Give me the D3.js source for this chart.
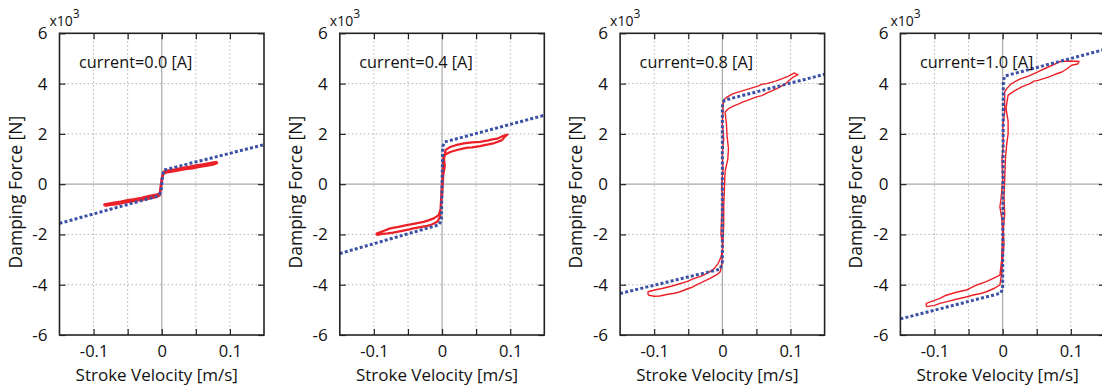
<!DOCTYPE html>
<html>
<head>
<meta charset="utf-8">
<script src="https://cdn.jsdelivr.net/npm/d3@7"></script>
<style>
  body { margin: 0; background: #fff; }
  svg { display: block; font-family: "Open Sans", sans-serif; }
</style>
</head>
<body>
<svg id="chart" width="1102" height="387"></svg>
<script>
// data (force in kN, velocity in m/s)
const currents = ["0.0", "0.4", "0.8", "1.0"];
const yTicks = [-6, -4, -2, 0, 2, 4, 6];
const xTicks = [-0.1, -0.05, 0, 0.05, 0.1];
const xLabels = [-0.1, 0, 0.1];

// blue dotted model lines
const model00 = [[-0.15,-1.56],[-0.005,-0.47],[-0.001,-0.3],[0.001,0.3],[0.003,0.56],[0.15,1.57]];
const model04 = [[-0.15,-2.76],[-0.005,-1.62],[-0.001,-1.45],[0,0],[0.001,1.5],[0.004,1.68],[0.15,2.74]];
const model08 = [[-0.15,-4.35],[-0.003,-3.38],[0,-3.1],[0,3.1],[0.003,3.34],[0.15,4.37]];
const model10 = [[-0.15,-5.36],[-0.003,-4.34],[0,-4.15],[0.001,4.1],[0.003,4.3],[0.15,5.36]];

// red measured loops
const loop00 = [[-0.084,-0.86],[-0.075,-0.82],[-0.065,-0.79],[-0.055,-0.73],[-0.045,-0.69],[-0.035,-0.64],[-0.025,-0.60],[-0.015,-0.55],[-0.007,-0.5],[-0.003,-0.44],[-0.002,-0.2],[0,0.2],[0.002,0.42],[0.006,0.46],[0.015,0.5],[0.025,0.55],[0.035,0.6],[0.045,0.63],[0.055,0.69],[0.065,0.73],[0.075,0.78],[0.081,0.84],
  [0.08,0.88],[0.07,0.83],[0.06,0.78],[0.05,0.74],[0.04,0.68],[0.03,0.64],[0.02,0.58],[0.008,0.53],[0.003,0.49],[0.001,0.3],[-0.001,-0.1],[-0.003,-0.38],[-0.008,-0.42],[-0.018,-0.47],[-0.03,-0.55],[-0.04,-0.6],[-0.05,-0.64],[-0.06,-0.7],[-0.07,-0.74],[-0.084,-0.81],[-0.084,-0.86]];
const loop04 = [[-0.096,-2.03],[-0.088,-1.98],[-0.08,-1.96],[-0.072,-1.93],[-0.066,-1.9],[-0.055,-1.84],[-0.048,-1.8],[-0.042,-1.76],[-0.03,-1.7],[-0.022,-1.66],[-0.017,-1.63],[-0.007,-1.5],[-0.003,-1.3],[-0.002,-0.9],[-0.001,-0.4],[0,0.1],[0.001,0.6],[0.002,1.08],[0.006,1.2],[0.012,1.28],[0.022,1.36],[0.032,1.42],[0.038,1.45],[0.044,1.46],[0.056,1.51],[0.062,1.55],[0.068,1.58],[0.075,1.62],[0.081,1.68],[0.088,1.75],[0.093,1.91],
  [0.096,1.97],[0.088,1.9],[0.081,1.81],[0.074,1.78],[0.068,1.74],[0.056,1.68],[0.05,1.67],[0.044,1.66],[0.032,1.62],[0.02,1.55],[0.012,1.48],[0.005,1.35],[0.003,1.0],[0.004,0.7],[0.002,0.4],[0.001,0],[0,-0.5],[-0.0025,-1.03],[-0.005,-1.23],[-0.012,-1.36],[-0.02,-1.44],[-0.027,-1.5],[-0.04,-1.57],[-0.052,-1.63],[-0.064,-1.7],[-0.076,-1.76],[-0.086,-1.86],[-0.096,-1.96],[-0.096,-2.03]];
const loop08 = [[-0.109,-4.41],[-0.1,-4.46],[-0.092,-4.45],[-0.08,-4.38],[-0.07,-4.34],[-0.062,-4.28],[-0.05,-4.15],[-0.044,-4.1],[-0.038,-4.01],[-0.028,-3.88],[-0.018,-3.75],[-0.008,-3.6],[-0.003,-3.48],[-0.001,-3.2],[0,-2.8],[0.001,-2.2],[0.002,-1.6],[0.002,-0.9],[0.003,-0.2],[0.004,0.5],[0.008,1.0],[0.009,1.4],[0.007,1.9],[0.006,2.4],[0.004,2.87],[0.009,3.0],[0.016,3.1],[0.025,3.2],[0.031,3.28],[0.037,3.33],[0.05,3.47],[0.058,3.52],[0.065,3.62],[0.08,3.8],[0.092,3.98],[0.104,4.26],[0.111,4.36],
  [0.105,4.42],[0.097,4.3],[0.09,4.22],[0.078,4.1],[0.065,4.0],[0.058,3.97],[0.052,3.9],[0.04,3.8],[0.028,3.7],[0.016,3.6],[0.006,3.45],[0.0015,3.34],[0.001,3.0],[0,2.4],[0.002,1.8],[0,1.2],[0.001,0.6],[-0.001,0],[0,-0.6],[-0.001,-1.3],[-0.002,-2.0],[0.001,-2.5],[-0.002,-2.9],[-0.006,-3.15],[-0.012,-3.36],[-0.018,-3.48],[-0.026,-3.6],[-0.033,-3.68],[-0.042,-3.76],[-0.052,-3.88],[-0.065,-3.98],[-0.075,-4.06],[-0.087,-4.14],[-0.098,-4.2],[-0.109,-4.28],[-0.109,-4.41]];
const loop10 = [[-0.112,-4.87],[-0.1,-4.82],[-0.092,-4.74],[-0.08,-4.66],[-0.068,-4.58],[-0.055,-4.5],[-0.043,-4.41],[-0.032,-4.35],[-0.024,-4.28],[-0.012,-4.14],[-0.004,-4.01],[-0.0015,-3.55],[0,-3.0],[0.002,-2.4],[0.001,-1.8],[0.003,-1.2],[0.002,-0.5],[0.003,0.2],[0.004,1.0],[0.006,1.6],[0.008,2.0],[0.008,2.5],[0.005,3.0],[0.006,3.2],
  [0.008,3.54],[0.018,3.72],[0.028,3.87],[0.04,4.0],[0.046,4.1],[0.052,4.13],[0.06,4.2],[0.067,4.26],[0.078,4.38],[0.087,4.46],[0.095,4.6],[0.101,4.73],[0.11,4.78],[0.112,4.88],
  [0.1,4.9],[0.085,4.88],[0.075,4.75],[0.062,4.6],[0.05,4.45],[0.038,4.3],[0.025,4.18],[0.013,4.0],[0.006,3.8],[0.003,3.67],[0.003,2.87],[0,2.3],[0.001,1.6],[-0.001,1.0],[0,0.2],[-0.002,-0.5],[-0.004,-0.9],[-0.001,-1.4],[0,-2.0],[-0.001,-2.6],[-0.0015,-3.02],[-0.004,-3.62],[-0.014,-3.75],[-0.024,-3.88],[-0.038,-4.01],[-0.046,-4.12],[-0.053,-4.21],[-0.065,-4.28],[-0.073,-4.34],[-0.085,-4.44],[-0.092,-4.54],[-0.102,-4.64],[-0.112,-4.74],[-0.112,-4.87]];

const models = [model00, model04, model08, model10];
const loops = [loop00, loop04, loop08, loop10];
const loopWidths = [2.6, 2.2, 1.4, 1.4];

const plotW = 204.5;
const plotH = 301.7;
const plotTop = 33.3;
const firstLeft = 59.5;
const step = 280.3;

const svg = d3.select("#chart");

const x = d3.scaleLinear().domain([-0.15, 0.15]).range([0, plotW]);
const y = d3.scaleLinear().domain([-6, 6]).range([plotH, 0]);
const line = d3.line().x(d => x(d[0])).y(d => y(d[1]));

currents.forEach((cur, i) => {
  const g = svg.append("g")
    .attr("transform", `translate(${firstLeft + i * step},${plotTop})`);

  // dotted grid
  g.selectAll(".gx").data(xTicks.filter(d => d !== 0)).enter().append("line")
    .attr("x1", d => x(d)).attr("x2", d => x(d))
    .attr("y1", 0).attr("y2", plotH)
    .attr("stroke", "#b4b4b4").attr("stroke-width", 1).attr("stroke-dasharray", "1.5,2.5");
  g.selectAll(".gy").data(yTicks.filter(d => d !== 0 && Math.abs(d) !== 6)).enter().append("line")
    .attr("x1", 0).attr("x2", plotW)
    .attr("y1", d => y(d)).attr("y2", d => y(d))
    .attr("stroke", "#b4b4b4").attr("stroke-width", 1).attr("stroke-dasharray", "1.5,2.5");

  // zero lines
  g.append("line").attr("x1", x(0)).attr("x2", x(0)).attr("y1", 0).attr("y2", plotH)
    .attr("stroke", "#a8a8a8").attr("stroke-width", 1.2);
  g.append("line").attr("x1", 0).attr("x2", plotW).attr("y1", y(0)).attr("y2", y(0))
    .attr("stroke", "#a8a8a8").attr("stroke-width", 1.2);

  // measured loop
  g.append("path").datum(loops[i])
    .attr("d", line)
    .attr("fill", "none")
    .attr("stroke", "#ec2027")
    .attr("stroke-width", loopWidths[i])
    .attr("stroke-linejoin", "round");

  // model line
  g.append("path").datum(models[i])
    .attr("d", line)
    .attr("fill", "none")
    .attr("stroke", "#3b51a6")
    .attr("stroke-width", 3)
    .attr("stroke-dasharray", "3,2.2");

  // axes with inward ticks
  const ax = g.append("g").attr("transform", `translate(0,${plotH})`)
    .call(d3.axisBottom(x).tickValues(xTicks).tickSizeInner(-6).tickSizeOuter(0).tickPadding(10)
      .tickFormat(d => xLabels.includes(d) ? String(d) : ""));
  g.append("g")
    .call(d3.axisTop(x).tickValues(xTicks).tickSizeInner(-6).tickSizeOuter(0).tickFormat(""));
  const ay = g.append("g")
    .call(d3.axisLeft(y).tickValues(yTicks).tickSizeInner(-6).tickSizeOuter(0).tickPadding(12)
      .tickFormat(d => String(d)));
  g.append("g").attr("transform", `translate(${plotW},0)`)
    .call(d3.axisRight(y).tickValues(yTicks).tickSizeInner(-6).tickSizeOuter(0).tickFormat(""));

  g.selectAll(".domain").remove();
  g.selectAll(".tick line").attr("stroke", "#222").attr("stroke-width", 1.2);
  ax.selectAll("text").attr("font-size", 16.5).attr("fill", "#111").attr("font-family", "Open Sans");
  ay.selectAll("text").attr("font-size", 17).attr("fill", "#111").attr("font-family", "Open Sans");

  // frame
  g.append("rect").attr("width", plotW).attr("height", plotH)
    .attr("fill", "none").attr("stroke", "#222").attr("stroke-width", 1.6);

  // current label
  g.append("text").attr("x", 19.5).attr("y", 34.5)
    .attr("font-size", 16.3).attr("fill", "#111")
    .text(`current=${cur} [A]`);

  // x10^3
  const mult = g.append("text").attr("x", -10).attr("y", -7).attr("font-size", 14).attr("fill", "#111");
  mult.append("tspan").text("x10");
  mult.append("tspan").attr("dy", -8).attr("font-size", 12).text("3");

  // axis titles
  g.append("text").attr("x", plotW / 2 - 5).attr("y", plotH + 46)
    .attr("text-anchor", "middle").attr("font-size", 17).attr("fill", "#111")
    .text("Stroke Velocity [m/s]");
  g.append("text")
    .attr("transform", `translate(-38,${plotH / 2 + 8}) rotate(-90)`)
    .attr("text-anchor", "middle").attr("font-size", 17.5).attr("fill", "#111")
    .text("Damping Force [N]");
});
</script>
</body>
</html>
